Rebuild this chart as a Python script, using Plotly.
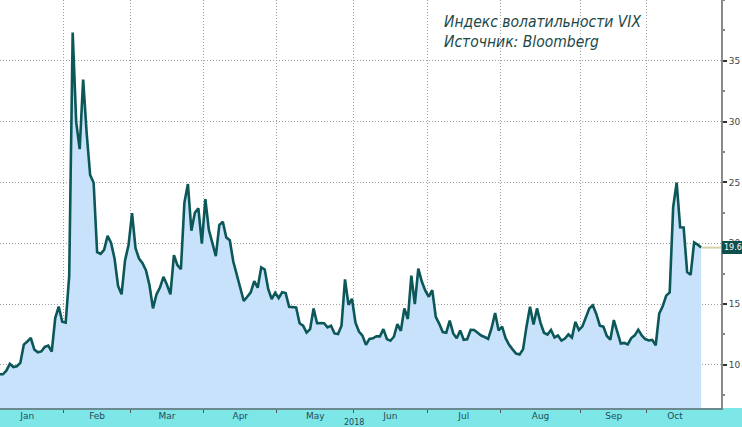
import plotly.graph_objects as go

# VIX daily closes, 2018 (trading days)
jan = [9.77, 9.15, 9.22, 9.22, 9.52, 10.08, 9.82, 9.88, 10.16, 11.66, 11.91, 12.22, 11.27, 11.03, 11.10, 11.47, 11.58, 11.08, 13.84, 14.79, 13.54]
feb = [13.47, 17.31, 37.32, 29.98, 27.73, 33.46, 29.06, 25.61, 24.97, 19.26, 19.13, 19.46, 20.60, 20.02, 18.72, 16.49, 15.80, 18.59, 19.85]
mar = [22.47, 19.59, 18.73, 18.36, 17.76, 16.54, 14.64, 15.78, 16.35, 17.23, 16.59, 15.80, 19.02, 18.20, 17.86, 23.34, 24.87, 21.03, 22.50, 22.87, 19.97]
apr = [23.62, 21.10, 20.06, 18.94, 21.49, 21.77, 20.47, 20.24, 18.49, 17.41, 16.56, 15.25, 15.60, 15.96, 16.88, 16.34, 18.02, 17.84, 16.24, 15.41, 15.93]
may = [15.49, 15.97, 15.90, 14.77, 14.75, 14.71, 13.42, 13.23, 12.65, 12.93, 14.63, 13.42, 13.43, 13.42, 13.08, 13.22, 12.58, 12.53, 13.22, 17.02, 14.94, 15.43]
jun = [13.46, 12.74, 12.40, 11.64, 12.13, 12.18, 12.35, 12.34, 12.94, 12.12, 11.98, 12.31, 13.35, 12.79, 14.64, 13.77, 17.33, 14.99, 17.91, 16.85, 16.09]
jul = [15.60, 16.14, 13.94, 13.37, 12.69, 12.64, 13.63, 12.58, 12.18, 12.83, 12.06, 12.10, 12.87, 12.86, 12.62, 12.41, 12.29, 12.14, 13.03, 14.26, 12.83]
aug = [13.15, 12.19, 11.64, 11.27, 10.93, 10.85, 11.27, 13.16, 14.78, 13.31, 14.64, 13.45, 12.64, 12.49, 12.86, 12.25, 12.41, 11.99, 12.16, 12.50, 12.25, 13.53, 12.86]
sep = [13.16, 13.91, 14.65, 14.88, 14.16, 13.22, 13.14, 12.37, 12.07, 13.68, 12.79, 11.75, 11.80, 11.68, 12.20, 12.42, 12.89, 12.41, 12.12]
oct = [12.00, 12.05, 11.61, 14.22, 14.82, 15.69, 15.95, 22.96, 24.98, 21.31, 21.30, 17.62, 17.40, 20.06, 19.89, 19.64]

month_names = ["Jan", "Feb", "Mar", "Apr", "May", "Jun", "Jul", "Aug", "Sep", "Oct"]
month_data = [jan, feb, mar, apr, may, jun, jul, aug, sep, oct]
y_ticks = [10, 15, 20, 25, 30, 35]
title_lines = ["Индекс волатильности VIX", "Источник: Bloomberg"]
year_label = "2018"

values = [v for m in month_data for v in m]
idx = list(range(len(values)))

# month boundaries / midpoints in trading-day index
starts, mids = [], []
pos = 0
for m in month_data:
    starts.append(pos - 0.5)
    mids.append(pos + (len(m) - 1) / 2)
    pos += len(m)
last_val = values[-1]
last_idx = idx[-1]

LINE = "#0c5757"
FILL = "#c9e2fb"
GRID = "#a0a0a0"
GDASH = "1px,2px"

fig = go.Figure()
fig.add_trace(go.Scatter(
    x=idx, y=values, mode="lines",
    line=dict(color=LINE, width=2.6),
    fill="tozeroy", fillcolor=FILL,
    hoverinfo="y",
))

x_lo, x_hi = 2.18, 208.7
fig.update_layout(
    width=742, height=427,
    margin=dict(l=0, r=21, t=0, b=19),
    paper_bgcolor="white", plot_bgcolor="white",
    showlegend=False,
    font=dict(family="DejaVu Sans", size=9, color="#333"),
    xaxis=dict(
        range=[x_lo, x_hi],
        tickmode="array", tickvals=mids, ticktext=month_names,
        showgrid=False, zeroline=False,
        ticks="", tickfont=dict(size=9, color="#1f4d5a"),
        ticklabelstandoff=-2,
        showline=True, linecolor="#6b8a90", linewidth=2,
        minor=dict(tickmode="array", tickvals=starts[1:], showgrid=True,
                   gridcolor=GRID, griddash=GDASH, gridwidth=1,
                   ticks="outside", ticklen=3, tickcolor="#555"),
    ),
    yaxis=dict(
        range=[6.45, 40.0], side="right",
        tickmode="array", tickvals=y_ticks,
        showgrid=True, gridcolor=GRID, griddash=GDASH, gridwidth=1,
        zeroline=False,
        ticks="outside", ticklen=4, tickwidth=2, tickcolor="#333",
        tickfont=dict(size=9, color="#444"),
        showline=True, linecolor="#8a8a8a", linewidth=2,
        minor=dict(dtick=2.5, tick0=0, ticks="outside", ticklen=2, tickcolor="#888", showgrid=False),
    ),
)

# cyan date band beneath the plot
fig.add_shape(type="rect", xref="paper", yref="paper",
              x0=0, x1=742 / 721, y0=-19 / 408, y1=0,
              fillcolor="#7de6e6", line=dict(width=0), layer="below")

# last value line + tag
fig.add_shape(type="line", xref="x", yref="y",
              x0=last_idx, x1=x_hi, y0=last_val, y1=last_val,
              line=dict(color="#d6d2a6", width=2))
fig.add_annotation(x=1, xref="paper", y=last_val, yref="y",
                   xanchor="left", yanchor="middle", xshift=1,
                   text=f"{last_val:.2f}", showarrow=False,
                   bgcolor="#0f4f4f", bordercolor="#0f4f4f", borderpad=1,
                   font=dict(size=8, color="white"))

# year label
fig.add_annotation(x=starts[5], xref="x", y=-14 / 408, yref="paper",
                   text=year_label, showarrow=False, yanchor="middle",
                   font=dict(size=8, color="#1f4d5a"))

# title text
fig.add_annotation(x=442 / 721, xref="paper", y=1 - 11 / 408, yref="paper",
                   xanchor="left", yanchor="top", align="left",
                   text="<br>".join(title_lines), showarrow=False,
                   font=dict(size=15.5, color="#1b4848", family="DejaVu Sans Condensed", style="italic"))

fig.write_html("out.html")
